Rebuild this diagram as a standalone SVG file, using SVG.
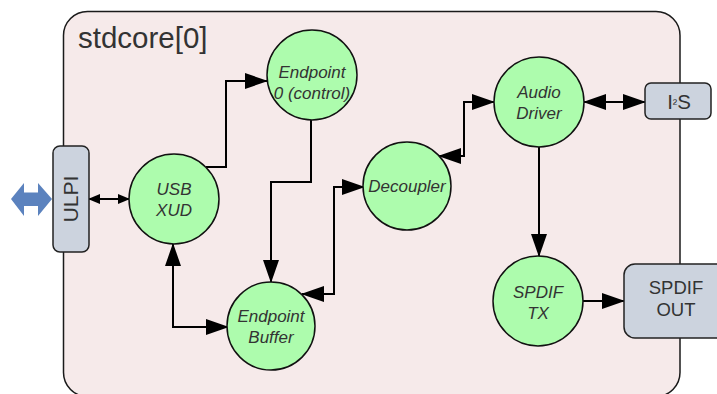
<svg xmlns="http://www.w3.org/2000/svg" width="717" height="394" viewBox="0 0 717 394">
  <defs>
    <marker id="head" markerUnits="userSpaceOnUse" markerWidth="23" markerHeight="16" refX="22" refY="8" orient="auto-start-reverse">
      <path d="M0,0 L23,8 L0,16 z" fill="#000"/>
    </marker>
    <marker id="head-sm" markerUnits="userSpaceOnUse" markerWidth="12" markerHeight="10" refX="11" refY="5" orient="auto-start-reverse">
      <path d="M0,0 L12,5 L0,10 z" fill="#000"/>
    </marker>
    <style>
      .core { fill: #f6eaea; stroke: #1a1a1a; stroke-width: 1.5; }
      .proc { fill: #adfcad; stroke: #111; stroke-width: 1.5; }
      .port { fill: #ccd3de; stroke: #222; stroke-width: 1.5; }
      .wire { fill: none; stroke: #000; stroke-width: 2; }
      .lbl  { font-family: "Liberation Sans", Arial, sans-serif; font-style: italic; font-size: 17px; fill: #333; text-anchor: middle; }
      .plbl { font-family: "Liberation Sans", Arial, sans-serif; font-size: 18.5px; fill: #333; text-anchor: middle; }
      .title { font-family: "Liberation Sans", Arial, sans-serif; font-size: 29.5px; fill: #333; }
    </style>
  </defs>

  <!-- tile boundary -->
  <g id="stdcore">
    <rect class="core" x="63.5" y="11.5" width="616.5" height="385" rx="24"/>
    <text class="title" x="78" y="48">stdcore[0]</text>
  </g>

  <!-- external USB link -->
  <g id="usb-link">
    <path d="M11,199 L24,183 L24,192.5 L38,192.5 L38,183 L52,199 L38,216 L38,206 L24,206 L24,216 z" fill="#5b82be"/>
  </g>

  <g id="connectors">
    <path class="wire" d="M89,199 H129" marker-start="url(#head-sm)" marker-end="url(#head-sm)"/>
    <path class="wire" d="M206,167 H226 V81 H267" marker-end="url(#head)"/>
    <path class="wire" d="M311,120 V182 H271 V282" marker-end="url(#head)"/>
    <path class="wire" d="M173,244 V327 H228" marker-start="url(#head)" marker-end="url(#head)"/>
    <path class="wire" d="M364,187 H334 V294 H302" marker-start="url(#head)" marker-end="url(#head)"/>
    <path class="wire" d="M494,102 H464 V156 H439" marker-start="url(#head)" marker-end="url(#head)"/>
    <path class="wire" d="M584,102 H645" marker-start="url(#head)" marker-end="url(#head)"/>
    <path class="wire" d="M539,147 V256" marker-end="url(#head)"/>
    <path class="wire" d="M583,301 H624" marker-end="url(#head)"/>
  </g>

  <g id="ulpi">
    <rect class="port" x="53" y="146" width="36" height="106" rx="7"/>
    <text class="plbl" x="0" y="0" transform="translate(78,199) rotate(-90)" style="font-size:21px">ULPI</text>
  </g>

  <g id="usb-xud">
    <circle class="proc" cx="174" cy="199" r="45"/>
    <text class="lbl" x="174" y="195">USB</text>
    <text class="lbl" x="174" y="216">XUD</text>
  </g>

  <g id="endpoint0">
    <circle class="proc" cx="312" cy="75" r="45"/>
    <text class="lbl" x="312" y="78">Endpoint</text>
    <text class="lbl" x="312" y="99">0 (control)</text>
  </g>

  <g id="endpoint-buffer">
    <circle class="proc" cx="271" cy="326" r="44"/>
    <text class="lbl" x="271" y="322">Endpoint</text>
    <text class="lbl" x="271" y="343">Buffer</text>
  </g>

  <g id="decoupler">
    <circle class="proc" cx="407" cy="186" r="44"/>
    <text class="lbl" x="407" y="192">Decoupler</text>
  </g>

  <g id="audio-driver">
    <circle class="proc" cx="539" cy="102" r="45"/>
    <text class="lbl" x="539" y="98">Audio</text>
    <text class="lbl" x="539" y="119">Driver</text>
  </g>

  <g id="spdif-tx">
    <circle class="proc" cx="538" cy="301" r="45"/>
    <text class="lbl" x="538" y="298">SPDIF</text>
    <text class="lbl" x="538" y="319">TX</text>
  </g>

  <g id="i2s">
    <rect class="port" x="645" y="83" width="66" height="36" rx="6"/>
    <text class="plbl" x="679" y="109" style="font-size:20.5px">I<tspan font-size="13" dy="-1">²</tspan><tspan dy="1">S</tspan></text>
  </g>

  <g id="spdif-out">
    <rect class="port" x="624" y="264" width="105" height="74" rx="11"/>
    <text class="plbl" x="676" y="294">SPDIF</text>
    <text class="plbl" x="676" y="316">OUT</text>
  </g>
</svg>
